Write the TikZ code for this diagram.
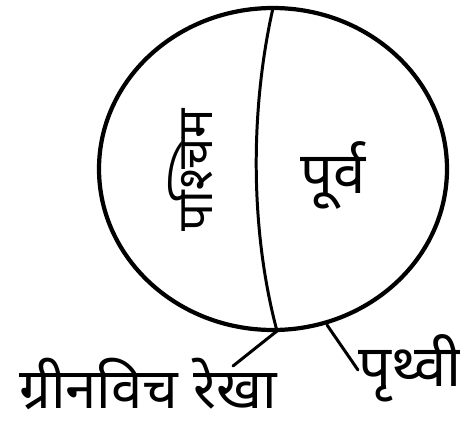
\documentclass[tikz,border=0pt]{standalone}
\usepackage{fontspec}
\newfontfamily\devfont[Script=Devanagari]{Noto Sans}
\usepackage{tikz}

\begin{document}
\begin{tikzpicture}[x=0.02cm, y=-0.02cm, line cap=round,
                    every node/.style={font=\devfont\fontsize{33}{38}\selectfont, inner sep=0pt},
                    globe/.style={line width=2.4pt},
                    leader/.style={line width=1.7pt}]
                    \useasboundingbox (0,0) rectangle (460,423);
                    \draw[globe] (273,169) ellipse (174 and 161);
                    \coordinate (northpole) at (273,8);
                    \coordinate (meridianfoot) at (277,331);
                    \coordinate (earthpoint) at (327,325);
                    \draw[leader] (northpole) .. controls (250,110) and (250,230) .. (meridianfoot);
                    \node[rotate=90, font=\devfont\fontsize{28}{32}\selectfont] (west) at (191,170) {पश्चिम};
                    \node (east) at (333,175) {पूर्व};
                    \node[font=\devfont\fontsize{32}{36}\selectfont] (greenwich) at (148,384) {ग्रीनविच रेखा};
                    \node (earth) at (410,368) {पृथ्वी};
                    \draw[leader] (meridianfoot) -- (233,366);
                    \draw[leader] (earthpoint) -- (358,370);
                \end{tikzpicture}
\end{document}
